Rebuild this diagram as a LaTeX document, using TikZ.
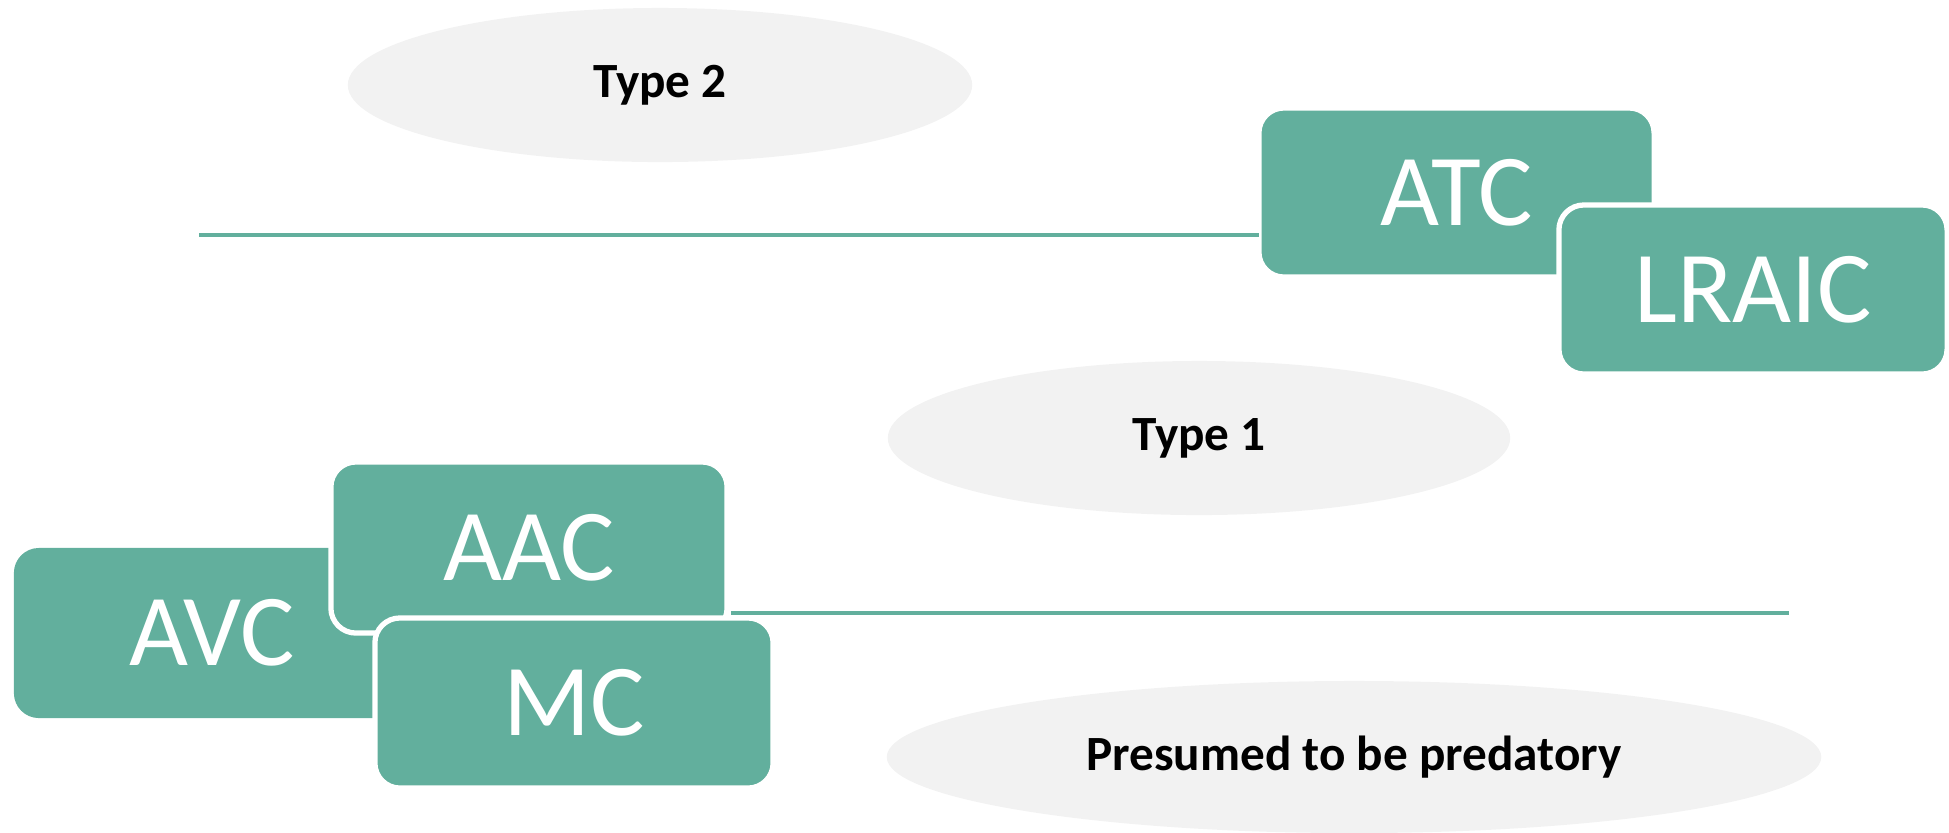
\documentclass[tikz,border=0pt]{standalone}
\usepackage{fontspec}
\setmainfont{Carlito}
\usetikzlibrary{shapes.geometric}
\definecolor{teal1}{HTML}{62AF9D}
\definecolor{oval}{HTML}{F2F2F2}
\tikzset{
  box/.style={draw=white, line width=1.5pt, fill=teal1, rounded corners=0.25cm,
    inner sep=0pt, outer sep=0pt, text=white, font=\fontsize{29}{29}\selectfont},
  ovalnode/.style={ellipse, fill=oval, inner sep=0pt, outer sep=0pt,
    font=\fontsize{14}{14}\selectfont\bfseries},
  rule/.style={draw=teal1, line width=1.4pt}
}
\begin{document}
\begin{tikzpicture}[x=0.01cm, y=-0.01cm]
\useasboundingbox (0,0) rectangle (1949,832);
% ovals
\node[ovalnode, minimum width=6.24cm, minimum height=1.54cm] (T2) at (660,85) {Type 2};
\node[ovalnode, minimum width=6.22cm, minimum height=1.54cm] (T1) at (1199,438) {Type 1};
\node[ovalnode, minimum width=9.34cm, minimum height=1.52cm] (PR) at (1354,757) {Presumed to be predatory};
% boxes
\node[box, minimum width=3.95cm, minimum height=1.69cm] (ATC) at (1456.5,192.5) {ATC};
\node[box, minimum width=3.88cm, minimum height=1.69cm] (LRAIC) at (1753,289.5) {LRAIC};
\node[box, draw=none, minimum width=3.96cm, minimum height=1.70cm] (AVC) at (212,633) {AVC};
\node[box, minimum width=3.96cm, minimum height=1.71cm] (AAC) at (529,547.5) {AAC};
\node[box, minimum width=3.98cm, minimum height=1.70cm] (MC) at (574,703) {MC};
% lines
\coordinate (L1) at (199,235);
\coordinate (L2) at (1789,613);
\draw[rule] (L1) -- (L1 -| ATC.west);
\draw[rule] ([xshift=0.04cm]AAC.east |- L2) -- (L2);
\end{tikzpicture}
\end{document}
